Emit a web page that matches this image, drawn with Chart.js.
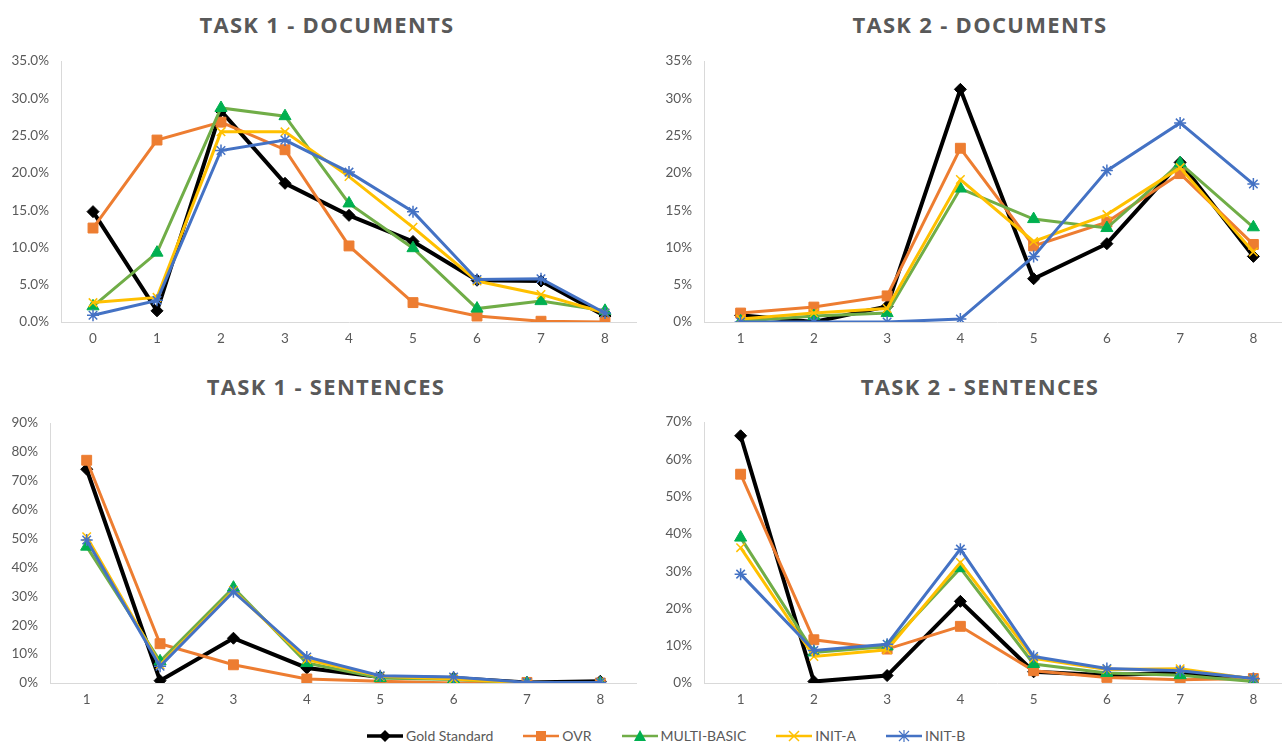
<!DOCTYPE html>
<html>
<head>
<meta charset="utf-8">
<script src="https://cdn.jsdelivr.net/npm/chart.js@4"></script>
<style>
  html, body { margin: 0; padding: 0; background: #fff; overflow: hidden; width: 1282px; height: 744px; }
  .box { position: absolute; }
  .title { position: absolute; font-family: "Open Sans", sans-serif; font-weight: bold; font-size: 22px;
           letter-spacing: 1.3px; color: #595959; text-align: center; width: 640px; line-height: 30px; }
  #legend { position: absolute; top: 727px; left: 367px; display: flex;
            font-family: Lato, sans-serif; font-size: 14px; color: #595959; line-height: 18px; }
  .item { display: flex; align-items: center; margin-right: 30px; }
  .item svg { margin-right: 3px; }
</style>
</head>
<body>
<div class="title" style="left:7px; top:9px;">TASK 1 - DOCUMENTS</div>
<div class="title" style="left:660px; top:9px;">TASK 2 - DOCUMENTS</div>
<div class="title" style="left:6px; top:371px;">TASK 1 - SENTENCES</div>
<div class="title" style="left:660px; top:371px;">TASK 2 - SENTENCES</div>

<div class="box" style="left:0; top:50px; width:637px; height:300px;"><canvas id="c1"></canvas></div>
<div class="box" style="left:640px; top:50px; width:650px; height:300px;"><canvas id="c2"></canvas></div>
<div class="box" style="left:0; top:410px; width:637px; height:300px;"><canvas id="c3"></canvas></div>
<div class="box" style="left:640px; top:410px; width:650px; height:300px;"><canvas id="c4"></canvas></div>
<div id="legend"></div>

<script>
// categorias
var catsDoc1 = ['0', '1', '2', '3', '4', '5', '6', '7', '8'];
var catsOther = ['1', '2', '3', '4', '5', '6', '7', '8'];

// Task 1 - Documents (%)
var t1dGold  = [14.8, 1.5, 28.3, 18.6, 14.3, 10.8, 5.6, 5.5, 0.8];
var t1dOvr   = [12.6, 24.4, 26.8, 23.1, 10.2, 2.6, 0.8, 0.1, 0.0];
var t1dMulti = [2.1, 9.3, 28.7, 27.6, 15.9, 9.9, 1.8, 2.8, 1.5];
var t1dInitA = [2.6, 3.3, 25.5, 25.5, 19.5, 12.7, 5.5, 3.7, 1.2];
var t1dInitB = [0.9, 2.9, 23.0, 24.4, 20.1, 14.8, 5.7, 5.8, 1.2];

// Task 2 - Documents (%)
var t2dGold  = [0.9, 0.0, 2.1, 31.2, 5.8, 10.5, 21.4, 8.8];
var t2dOvr   = [1.2, 2.0, 3.5, 23.3, 10.2, 13.4, 19.9, 10.4];
var t2dMulti = [0.1, 0.8, 1.2, 17.9, 13.8, 12.6, 21.3, 12.7];
var t2dInitA = [0.4, 1.2, 1.8, 19.1, 10.8, 14.4, 20.7, 9.4];
var t2dInitB = [0.0, 0.0, 0.0, 0.4, 8.8, 20.3, 26.7, 18.5];

// Task 1 - Sentences (%)
var t1sGold  = [74.0, 0.8, 15.5, 5.2, 2.1, 1.7, 0.2, 0.6];
var t1sOvr   = [77.1, 13.6, 6.3, 1.4, 0.6, 0.0, 0.2, 0.0];
var t1sMulti = [47.2, 7.5, 33.0, 6.9, 1.7, 1.2, 0.0, 0.0];
var t1sInitA = [50.6, 6.3, 32.0, 8.1, 2.3, 1.4, 0.0, 0.0];
var t1sInitB = [49.5, 5.8, 31.6, 9.0, 2.5, 2.1, 0.2, 0.2];

// Task 2 - Sentences (%)
var t2sGold  = [66.3, 0.4, 2.0, 21.9, 3.0, 2.1, 2.8, 1.1];
var t2sOvr   = [56.0, 11.6, 9.1, 15.2, 3.3, 1.5, 0.9, 1.2];
var t2sMulti = [39.0, 8.2, 9.8, 30.8, 5.1, 2.7, 2.1, 0.4];
var t2sInitA = [36.3, 7.1, 8.9, 32.3, 6.6, 3.6, 3.8, 1.1];
var t2sInitB = [29.2, 8.7, 10.4, 35.9, 7.1, 3.9, 3.3, 1.2];

var seriesNames = ['Gold Standard', 'OVR', 'MULTI-BASIC', 'INIT-A', 'INIT-B'];

// estilo de cada serie
var estilos = [
  { line: '#000000', point: '#000000', shape: 'rectRot',  r: 6, w: 4 },
  { line: '#ED7D31', point: '#ED7D31', shape: 'rect',     r: 7, w: 3 },
  { line: '#70AD47', point: '#00B050', shape: 'triangle', r: 7, w: 3 },
  { line: '#FFC000', point: '#FFC000', shape: 'crossRot', r: 6, w: 3 },
  { line: '#4472C4', point: '#4472C4', shape: 'star',     r: 6, w: 3 }
];

function armarDatasets(listas) {
  return listas.map(function (vals, i) {
    var e = estilos[i];
    var hueco = e.shape === 'crossRot' || e.shape === 'star';
    return {
      label: seriesNames[i],
      data: vals,
      borderColor: e.line,
      borderWidth: e.w,
      backgroundColor: e.point,
      pointStyle: e.shape,
      pointRadius: e.r,
      pointBackgroundColor: e.point,
      pointBorderColor: e.point,
      pointBorderWidth: hueco ? 1.5 : 1,
      tension: 0,
      order: 5 - i
    };
  });
}

function crearGrafico(id, cats, listas, maxY, paso, decimales, ancho, altoX, padTop) {
  var ctx = document.getElementById(id).getContext('2d');
  return new Chart(ctx, {
    type: 'line',
    data: { labels: cats, datasets: armarDatasets(listas) },
    options: {
      responsive: true,
      maintainAspectRatio: false,
      animation: false,
      layout: { autoPadding: false, padding: { top: padTop, right: 0, left: 0, bottom: 0 } },
      plugins: { legend: { display: false }, tooltip: { enabled: false } },
      scales: {
        x: {
          offset: true,
          grid: { display: false, drawTicks: false },
          border: { display: true, color: '#d9d9d9', width: 1 },
          ticks: { color: '#595959', padding: 9, font: { family: 'Lato', size: 13.5 } },
          afterFit: function (s) {
            s.height = altoX;
            s.paddingLeft = 0; s.paddingRight = 0;
          }
        },
        y: {
          min: 0,
          max: maxY,
          grid: { display: false, drawTicks: false },
          border: { display: true, color: '#d9d9d9', width: 1 },
          ticks: {
            stepSize: paso,
            color: '#595959',
            padding: 12,
            font: { family: 'Lato', size: 13.5 },
            callback: function (v) { return v.toFixed(decimales) + '%'; }
          },
          afterFit: function (s) {
            s.width = ancho;
            s.paddingTop = 0; s.paddingBottom = 0;
          }
        }
      }
    }
  });
}

crearGrafico('c1', catsDoc1, [t1dGold, t1dOvr, t1dMulti, t1dInitA, t1dInitB], 35, 5, 1, 61, 28, 11);
crearGrafico('c2', catsOther, [t2dGold, t2dOvr, t2dMulti, t2dInitA, t2dInitB], 35, 5, 0, 64, 28, 11);
crearGrafico('c3', catsOther, [t1sGold, t1sOvr, t1sMulti, t1sInitA, t1sInitB], 90, 10, 0, 50, 27, 13);
crearGrafico('c4', catsOther, [t2sGold, t2sOvr, t2sMulti, t2sInitA, t2sInitB], 70, 10, 0, 64, 27, 12);

// leyenda en html con muestras dibujadas en svg
function marcador(e) {
  var c = e.point;
  switch (e.shape) {
    case 'rectRot': return '<polygon points="18,1 24,7 18,13 12,7" fill="' + c + '"/>';
    case 'rect': return '<rect x="13" y="2" width="10" height="10" fill="' + c + '"/>';
    case 'triangle': return '<polygon points="18,1 24,12 12,12" fill="' + c + '"/>';
    case 'crossRot': return '<path d="M13,2 L23,12 M23,2 L13,12" stroke="' + c + '" stroke-width="1.5"/>';
    default: return '<path d="M13,2 L23,12 M23,2 L13,12 M18,1 L18,13 M12,7 L24,7" stroke="' + c + '" stroke-width="1.2"/>';
  }
}
var ley = document.getElementById('legend');
seriesNames.forEach(function (n, i) {
  var e = estilos[i];
  var d = document.createElement('div');
  d.className = 'item';
  d.innerHTML = '<svg width="36" height="14"><line x1="0" y1="7" x2="36" y2="7" stroke="' + e.line +
    '" stroke-width="' + (e.w - 0.5) + '"/>' + marcador(e) + '</svg><span>' + n + '</span>';
  ley.appendChild(d);
});
</script>
</body>
</html>
